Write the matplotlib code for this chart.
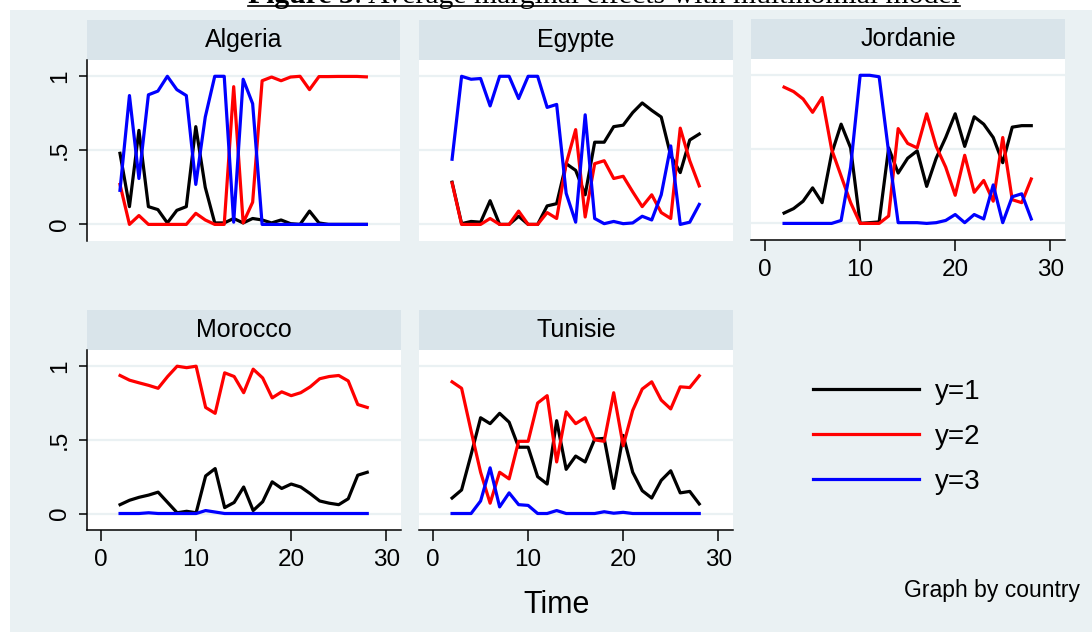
import matplotlib
matplotlib.use('Agg')
import matplotlib.pyplot as plt
from matplotlib.patches import Rectangle
from matplotlib.lines import Line2D

# time axis shared by all panels
time = list(range(2, 29))

# Algeria
alg_y1 = [0.48, 0.12, 0.635, 0.12, 0.10, 0.01, 0.095, 0.12, 0.66, 0.25, 0.01, 0.01, 0.04, 0.01,
          0.04, 0.03, 0.01, 0.03, 0.005, 0.0, 0.09, 0.01, 0.0, 0.0, 0.0, 0.0, 0.0]
alg_y2 = [0.27, 0.0, 0.06, 0.0, 0.0, 0.0, 0.0, 0.0, 0.075, 0.03, 0.0, 0.0, 0.93, 0.01,
          0.15, 0.97, 0.995, 0.97, 0.995, 1.0, 0.91, 0.998, 0.998, 0.999, 0.999, 0.999, 0.996]
alg_y3 = [0.23, 0.87, 0.31, 0.875, 0.90, 1.0, 0.91, 0.87, 0.27, 0.725, 1.0, 1.0, 0.015, 0.98,
          0.815, 0.0, 0.0, 0.0, 0.0, 0.0, 0.0, 0.0, 0.0, 0.0, 0.0, 0.0, 0.0]

# Egypte
egy_y1 = [0.285, 0.005, 0.02, 0.015, 0.16, 0.0, 0.0, 0.055, 0.0, 0.0, 0.125, 0.14, 0.41, 0.365,
          0.20, 0.555, 0.555, 0.66, 0.67, 0.755, 0.82, 0.77, 0.725, 0.465, 0.35, 0.57, 0.61]
egy_y2 = [0.28, 0.0, 0.0, 0.0, 0.04, 0.0, 0.0, 0.09, 0.0, 0.0, 0.08, 0.04, 0.41, 0.64,
          0.05, 0.41, 0.43, 0.31, 0.325, 0.22, 0.12, 0.20, 0.08, 0.04, 0.65, 0.43, 0.26]
egy_y3 = [0.44, 1.0, 0.98, 0.985, 0.80, 1.0, 1.0, 0.85, 1.0, 1.0, 0.79, 0.81, 0.21, 0.015,
          0.74, 0.04, 0.005, 0.02, 0.005, 0.01, 0.055, 0.03, 0.20, 0.53, 0.0, 0.015, 0.135]

# Jordanie
jor_y1 = [0.07, 0.10, 0.15, 0.24, 0.14, 0.47, 0.67, 0.51, 0.0, 0.005, 0.01, 0.51, 0.34, 0.44,
          0.49, 0.25, 0.44, 0.58, 0.74, 0.52, 0.72, 0.67, 0.58, 0.41, 0.65, 0.66, 0.66]
jor_y2 = [0.92, 0.89, 0.84, 0.75, 0.85, 0.50, 0.32, 0.14, 0.0, 0.0, 0.0, 0.05, 0.64, 0.54,
          0.51, 0.74, 0.52, 0.38, 0.19, 0.46, 0.21, 0.29, 0.15, 0.58, 0.16, 0.14, 0.30]
jor_y3 = [0.0, 0.0, 0.0, 0.0, 0.0, 0.0, 0.02, 0.38, 1.0, 1.0, 0.99, 0.48, 0.005, 0.005,
          0.005, 0.0, 0.005, 0.02, 0.06, 0.005, 0.06, 0.03, 0.26, 0.005, 0.18, 0.20, 0.03]

# Morocco
mor_y1 = [0.06, 0.09, 0.11, 0.125, 0.145, 0.075, 0.005, 0.015, 0.005, 0.255, 0.305, 0.04, 0.075, 0.18,
          0.02, 0.08, 0.215, 0.17, 0.20, 0.18, 0.135, 0.085, 0.07, 0.06, 0.10, 0.26, 0.28]
mor_y2 = [0.937, 0.905, 0.887, 0.87, 0.85, 0.93, 1.0, 0.99, 1.0, 0.72, 0.68, 0.955, 0.93, 0.82,
          0.98, 0.92, 0.785, 0.826, 0.80, 0.82, 0.86, 0.915, 0.93, 0.937, 0.90, 0.74, 0.72]
mor_y3 = [0.0, 0.0, 0.0, 0.005, 0.0, 0.0, 0.0, 0.0, 0.0, 0.02, 0.01, 0.0, 0.0, 0.0,
          0.0, 0.0, 0.0, 0.0, 0.0, 0.0, 0.0, 0.0, 0.0, 0.0, 0.0, 0.0, 0.0]

# Tunisie
tun_y1 = [0.105, 0.16, 0.40, 0.65, 0.61, 0.68, 0.62, 0.45, 0.45, 0.25, 0.20, 0.63, 0.30, 0.39,
          0.35, 0.505, 0.51, 0.17, 0.53, 0.28, 0.155, 0.105, 0.225, 0.29, 0.14, 0.15, 0.065]
tun_y2 = [0.894, 0.85, 0.56, 0.28, 0.07, 0.28, 0.235, 0.49, 0.49, 0.75, 0.80, 0.35, 0.69, 0.61,
          0.65, 0.50, 0.49, 0.82, 0.46, 0.70, 0.845, 0.894, 0.77, 0.71, 0.86, 0.855, 0.935]
tun_y3 = [0.0, 0.0, 0.0, 0.085, 0.31, 0.045, 0.14, 0.06, 0.055, 0.0, 0.0, 0.02, 0.0, 0.0,
          0.0, 0.0, 0.012, 0.002, 0.008, 0.0, 0.0, 0.0, 0.0, 0.0, 0.0, 0.0, 0.0]

series_labels = ['y=1', 'y=2', 'y=3']
series_colors = ['#000000', '#ff0000', '#0000ff']

yticks = [0, 0.5, 1]
ytick_labels = ['0', '.5', '1']
xticks = [0, 10, 20, 30]

W, H = 1092, 632
bg = '#eaf1f3'
strip_col = '#d9e4ea'
grid_col = '#eaf1f3'
sans = 'Liberation Sans'

fig = plt.figure(figsize=(W / 100, H / 100), dpi=100)
fig.patch.set_facecolor('white')
fig.add_artist(Rectangle((10 / W, 0), 1 - 10 / W, 1 - 10 / H, transform=fig.transFigure,
                         facecolor=bg, edgecolor='none', zorder=0))


def px_box(x0, y0, x1, y1):
    # pixel box (top-left origin) -> figure fraction rect
    return [x0 / W, 1 - y1 / H, (x1 - x0) / W, (y1 - y0) / H]


# name, data, plot box in px, show y axis, show x axis
panels = [
    ('Algeria', (alg_y1, alg_y2, alg_y3), (87, 60, 400, 241), True, False),
    ('Egypte', (egy_y1, egy_y2, egy_y3), (419, 60, 733, 241), False, False),
    ('Jordanie', (jor_y1, jor_y2, jor_y3), (751, 59, 1065, 240), False, True),
    ('Morocco', (mor_y1, mor_y2, mor_y3), (87, 350, 401, 530), True, True),
    ('Tunisie', (tun_y1, tun_y2, tun_y3), (419, 350, 733, 530), False, True),
]

handles = None
for name, data, box, show_y, show_x in panels:
    x0, y0, x1, y1 = box
    # title strip
    sax = fig.add_axes(px_box(x0, y0 - 40, x1, y0))
    sax.set_facecolor(strip_col)
    sax.set_xticks([])
    sax.set_yticks([])
    for s in sax.spines.values():
        s.set_visible(False)
    sax.text(0.5, 0.5, name, ha='center', va='center', fontsize=18, family=sans,
             transform=sax.transAxes)

    ax = fig.add_axes(px_box(x0, y0, x1, y1))
    ax.set_facecolor('white')
    for yv in yticks:
        ax.axhline(yv, color=grid_col, lw=1.6, zorder=1)
    lines = []
    for vals, col, lab in zip(data, series_colors, series_labels):
        ln, = ax.plot(time, vals, color=col, lw=2.3, label=lab, zorder=3)
        lines.append(ln)
    if handles is None:
        handles = lines
    ax.set_xlim(-1.48, 31.55)
    ax.set_ylim(-0.112, 1.11)

    for s in ['top', 'right']:
        ax.spines[s].set_visible(False)
    ax.spines['left'].set_visible(show_y)
    ax.spines['bottom'].set_visible(show_x)
    for s in ['left', 'bottom']:
        ax.spines[s].set_linewidth(1.1)

    if show_y:
        ax.set_yticks(yticks)
        ax.set_yticklabels(ytick_labels, rotation=90, va='center', family=sans, fontsize=17.5)
        ax.tick_params(axis='y', length=5.5, width=1.1, pad=6)
    else:
        ax.set_yticks([])
    if show_x:
        ax.set_xticks(xticks)
        ax.set_xticklabels([str(v) for v in xticks], family=sans, fontsize=17.5)
        ax.tick_params(axis='x', length=8, width=1.1, pad=6)
    else:
        ax.set_xticks([])

fig.legend(handles=handles, labels=series_labels, loc='upper left',
           bbox_to_anchor=(813 / W, 1 - 379 / H), frameon=False, prop={'family': sans, 'size': 20},
           handlelength=3.8, handletextpad=0.58, labelspacing=0.68, borderpad=0, borderaxespad=0)

fig.text(557 / W, 1 - 605 / H, 'Time', ha='center', va='center', fontsize=22, family=sans)
fig.text(1080 / W, 1 - 590 / H, 'Graph by country', ha='right', va='center', fontsize=16.5, family=sans)

# title, mostly cut off at the top edge like the reference
serif = 'Liberation Serif'
t1 = fig.text(248 / W, 1 - 3 / H, 'Figure 3', ha='left', va='baseline', fontsize=21.4,
              family=serif, weight='bold')
renderer = fig.canvas.get_renderer()
bb = t1.get_window_extent(renderer)
t2 = fig.text(bb.x1 / W, 1 - 3 / H, ': Average marginal effects with multinomial model',
              ha='left', va='baseline', fontsize=21.4, family=serif)
bb2 = t2.get_window_extent(renderer)
fig.add_artist(Line2D([248 / W, bb2.x1 / W], [1 - 5.5 / H, 1 - 5.5 / H], transform=fig.transFigure,
                      color='black', lw=1.2))

fig.savefig('out.png', dpi=100, facecolor=fig.get_facecolor())
